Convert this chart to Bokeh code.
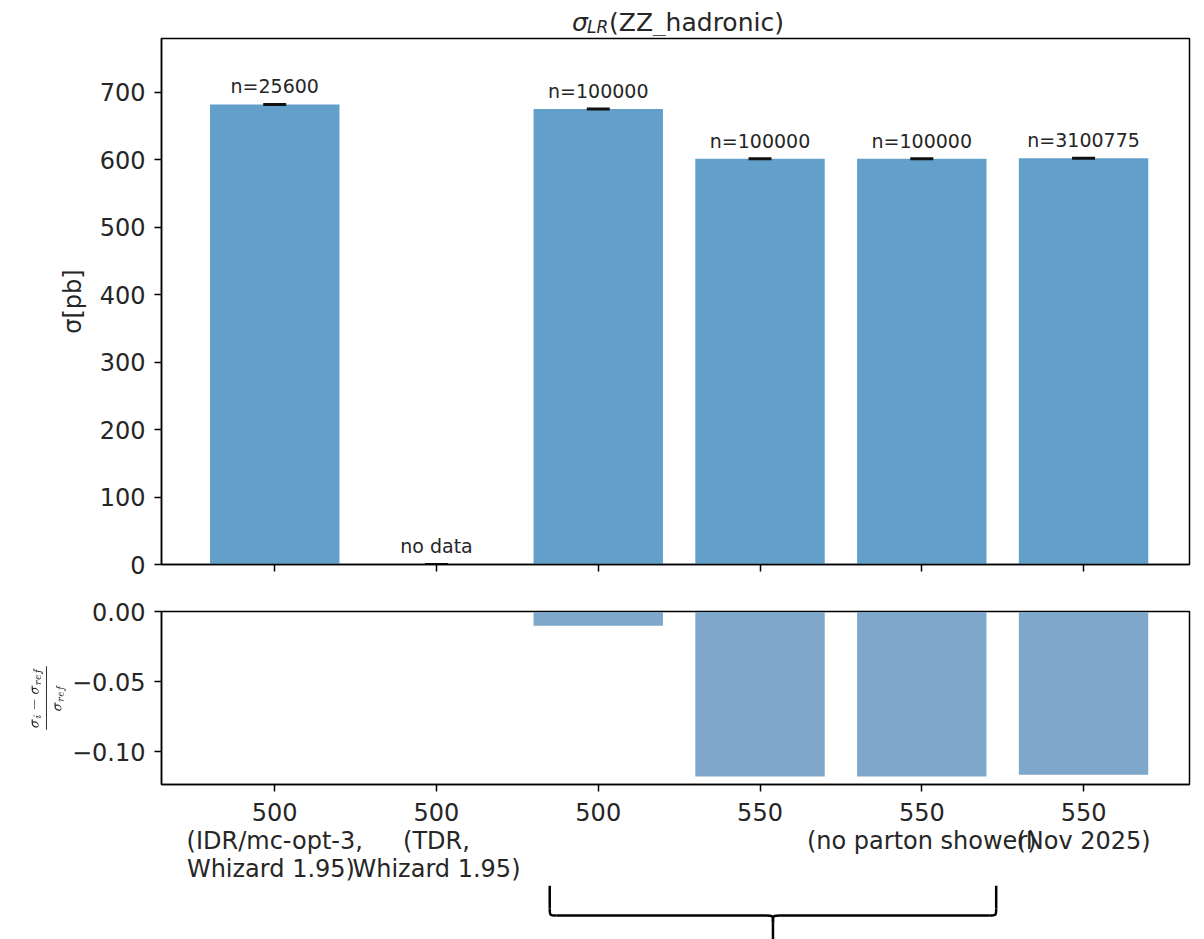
from bokeh.plotting import figure
from bokeh.models import Range1d, FixedTicker, ColumnDataSource, CustomJSTickFormatter
from bokeh.layouts import column
from bokeh.embed import file_html
from bokeh.resources import INLINE
from bokeh.core.properties import value

# ---------------- data ----------------
positions = [0, 1, 2, 3, 4, 5]
xtick_labels = [
    "500\n(IDR/mc-opt-3,\n Whizard 1.95)",
    "500\n(TDR,\nWhizard 1.95)",
    "500",
    "550",
    "550\n(no parton shower)",
    "550\n(Nov 2025)",
]
sigma = [682.1, 0.0, 675.3, 601.7, 601.7, 602.6]
has_data = [True, False, True, True, True, True]
n_labels = ["n=25600", "no data", "n=100000", "n=100000", "n=100000", "n=3100775"]
ytick_top = [0, 100, 200, 300, 400, 500, 600, 700]
ytick_bottom = [-0.10, -0.05, 0.0]
title_parts = ["σ", "LR", "(ZZ_hadronic)"]

ref = sigma[0]
rel = [((s - ref) / ref) if ok else float("nan") for s, ok in zip(sigma, has_data)]

# ---------------- styles ----------------
FONT = "DejaVu Sans"
TOP_COLOR = "#62a0ca"
BOT_COLOR = "#7ea7ca"
TXT = "#262626"
BAR_W = 0.8
CAP_HALF = 0.071
LABEL_PAD = 26.8
W = 1194
BL, BR = 161, 5

xr = Range1d(-0.70, 5.655)


def style(p):
    p.xgrid.grid_line_color = None
    p.ygrid.grid_line_color = None
    p.outline_line_color = "black"
    p.outline_line_width = 1.5
    p.outline_line_alpha = 1.0
    for ax in (p.xaxis[0], p.yaxis[0]):
        ax.axis_line_color = "black"
        ax.axis_line_width = 1.5
        ax.major_tick_line_color = "black"
        ax.major_tick_line_width = 1.5
        ax.major_tick_out = 7
        ax.major_tick_in = 0
        ax.minor_tick_line_color = None
        ax.major_label_text_font = FONT
        ax.major_label_text_font_size = "24px"
        ax.major_label_text_color = TXT
        ax.major_label_standoff = 7
        ax.axis_label_text_font = FONT
        ax.axis_label_text_font_style = "normal"
        ax.axis_label_text_color = TXT
    p.yaxis[0].major_label_standoff = 9


# ---------------- title strip ----------------
HT = 36
pt = figure(width=W, height=HT, x_range=xr, y_range=Range1d(HT, 0),
            title=None, output_backend="svg", toolbar_location=None,
            x_axis_type=None, y_axis_type=None,
            min_border_left=BL, min_border_right=BR, min_border_top=0, min_border_bottom=0)
pt.outline_line_color = None
pt.xgrid.grid_line_color = None
pt.ygrid.grid_line_color = None
pt.text(x=[1.838], y=[22], text=[title_parts[0]], text_font=value(FONT),
        text_font_size="25px", text_font_style="italic", text_color=TXT,
        text_align="left", text_baseline="alphabetic")
pt.text(x=[1.93], y=[26], text=[title_parts[1]], text_font=value(FONT),
        text_font_size="17px", text_font_style="italic", text_color=TXT,
        text_align="left", text_baseline="alphabetic")
pt.text(x=[2.067], y=[22], text=[title_parts[2]], text_font=value(FONT),
        text_font_size="25px", text_color=TXT,
        text_align="left", text_baseline="alphabetic")

# ---------------- top panel ----------------
p1 = figure(width=W, height=554, x_range=xr, y_range=Range1d(0, 780),
            title=None, output_backend="svg", toolbar_location=None,
            min_border_left=BL, min_border_right=BR, min_border_top=2, min_border_bottom=26)
style(p1)
p1.xaxis.ticker = FixedTicker(ticks=positions)
p1.xaxis.formatter = CustomJSTickFormatter(code="return '';")
p1.xaxis.major_label_standoff = 0
p1.yaxis.ticker = FixedTicker(ticks=ytick_top)
p1.yaxis.axis_label = "σ[pb]"
p1.yaxis.axis_label_text_font_size = "24px"
p1.yaxis.axis_label_standoff = 10

src = ColumnDataSource(dict(
    x=positions, top=sigma, lab=n_labels,
    ylab=[s + LABEL_PAD for s in sigma],
    x0=[x - CAP_HALF for x in positions], x1=[x + CAP_HALF for x in positions],
))
p1.vbar(x="x", top="top", bottom=0, width=BAR_W, source=src,
        fill_color=TOP_COLOR, line_color=None)
p1.segment(x0="x0", x1="x1", y0="top", y1="top", source=src,
           line_color="#111111", line_width=3)
p1.text(x="x", y="ylab", text="lab", source=src, text_align="center",
        text_baseline="alphabetic", text_font=value(FONT),
        text_font_size="19px", text_color=TXT)

# ---------------- ratio panel ----------------
p2 = figure(width=W, height=295, x_range=xr, y_range=Range1d(-0.1236, 0.0003),
            title=None, output_backend="svg", toolbar_location=None,
            min_border_left=BL, min_border_right=BR, min_border_top=21, min_border_bottom=101)
style(p2)
p2.xaxis.ticker = FixedTicker(ticks=positions)
p2.xaxis.major_label_overrides = {i: t for i, t in zip(positions, xtick_labels)}
p2.xaxis.major_label_text_line_height = 1.0
p2.yaxis.ticker = FixedTicker(ticks=ytick_bottom)
p2.yaxis.formatter = CustomJSTickFormatter(code="return tick.toFixed(2).replace('-', '\\u2212');")
p2.yaxis.axis_label = r"$$\frac{\sigma_i - \sigma_{ref}}{\sigma_{ref}}$$"
p2.yaxis.axis_label_text_font_size = "13px"
p2.yaxis.axis_label_standoff = 3

src2 = ColumnDataSource(dict(x=positions, rel=rel))
p2.vbar(x="x", top=0, bottom="rel", width=BAR_W, source=src2,
        fill_color=BOT_COLOR, line_color=None)

# ---------------- brace below ----------------
brace_left, brace_right, brace_tip = 1.70, 4.46, 3.08
H3 = 54
p3 = figure(width=W, height=H3, x_range=xr, y_range=Range1d(H3, 0),
            title=None, output_backend="svg", toolbar_location=None,
            x_axis_type=None, y_axis_type=None,
            min_border_left=BL, min_border_right=BR, min_border_top=0, min_border_bottom=0)
p3.outline_line_color = None
p3.xgrid.grid_line_color = None
p3.ygrid.grid_line_color = None
rx = 0.043
y_top, y_h, ry = 0, 30, 7
bl = dict(line_color="black", line_width=2.5)
p3.segment(x0=[brace_left, brace_right, brace_left + rx, brace_tip + rx, brace_tip],
           x1=[brace_left, brace_right, brace_tip - rx, brace_right - rx, brace_tip],
           y0=[y_top, y_top, y_h, y_h, y_h + ry],
           y1=[y_h - ry, y_h - ry, y_h, y_h, H3], **bl)
p3.bezier(x0=[brace_left, brace_tip - rx, brace_tip, brace_right - rx],
          y0=[y_h - ry, y_h, y_h + ry, y_h],
          x1=[brace_left + rx, brace_tip, brace_tip + rx, brace_right],
          y1=[y_h, y_h + ry, y_h, y_h - ry],
          cx0=[brace_left, brace_tip, brace_tip, brace_right],
          cy0=[y_h, y_h, y_h, y_h],
          cx1=[brace_left, brace_tip, brace_tip, brace_right],
          cy1=[y_h, y_h, y_h, y_h], **bl)

layout = column(pt, p1, p2, p3, spacing=0)
open("out.html", "w").write(file_html(layout, INLINE))
